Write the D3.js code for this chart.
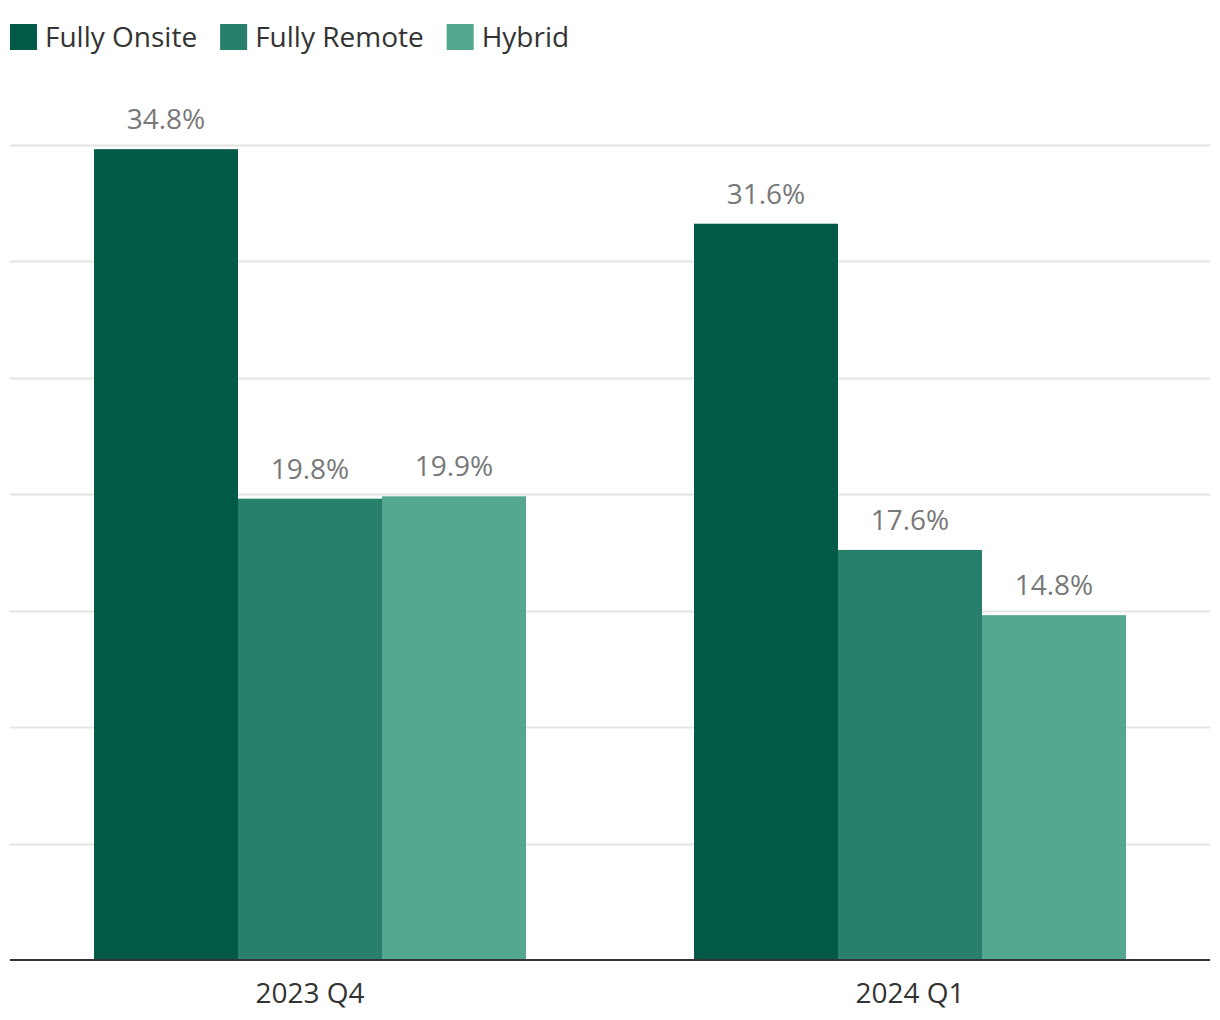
<!DOCTYPE html>
<html><head><meta charset="utf-8">
<script src="https://cdn.jsdelivr.net/npm/d3@7"></script>
<style>body{margin:0;background:#fff;} svg{display:block;font-family:"Open Sans",sans-serif;}</style>
</head><body>
<script>
const categories = ["2023 Q4", "2024 Q1"];
const seriesNames = ["Fully Onsite", "Fully Remote", "Hybrid"];
const fullyOnsite = [34.8, 31.6];
const fullyRemote = [19.8, 17.6];
const hybrid = [19.9, 14.8];
const yTicks = [0, 5, 10, 15, 20, 25, 30, 35];
const colors = ["#035A47", "#28806B", "#53A790"];

const W = 1220, H = 1020;
const svg = d3.select("body").append("svg").attr("width", W).attr("height", H);

const x0 = d3.scaleBand().domain(categories).range([10, 1210]).padding(0);
const x1 = d3.scaleBand().domain(seriesNames).range([84, 516]).padding(0);
const y = d3.scaleLinear().domain([0, 35]).range([960, 144.5]);

// gridlines
svg.append("g").selectAll("line").data(yTicks.filter(t => t > 0)).join("line")
  .attr("x1", 10).attr("x2", 1210)
  .attr("y1", d => Math.round(y(d)) + 0.5).attr("y2", d => Math.round(y(d)) + 0.5)
  .attr("stroke", "#e4e4e4").attr("stroke-width", 2);

const seriesData = [fullyOnsite, fullyRemote, hybrid];
const rows = [];
seriesData.forEach((vals, si) => vals.forEach((v, ci) => rows.push({s: seriesNames[si], si, c: categories[ci], v})));

svg.append("g").selectAll("rect").data(rows).join("rect")
  .attr("x", d => x0(d.c) + x1(d.s))
  .attr("width", x1.bandwidth())
  .attr("y", d => y(d.v))
  .attr("height", d => y(0) - y(d.v))
  .attr("fill", d => colors[d.si]);

svg.append("g").selectAll("text").data(rows).join("text")
  .attr("x", d => x0(d.c) + x1(d.s) + x1.bandwidth() / 2)
  .attr("y", d => y(d.v) - 20)
  .attr("text-anchor", "middle")
  .attr("font-size", 28)
  .attr("fill", "#787878")
  .text(d => d.v.toFixed(1) + "%");

// baseline axis
const xAxis = d3.axisBottom(x0).tickSize(0).tickPadding(0);
const gx = svg.append("g").attr("transform", `translate(0,${y(0)})`).call(xAxis);
gx.select(".domain").attr("stroke", "#333").attr("stroke-width", 2).attr("d", "M10,0H1210");
gx.selectAll("text").attr("font-size", 28).attr("fill", "#333").attr("font-family", "Open Sans, sans-serif").attr("dy", null).attr("y", 43);

// legend
const lg = svg.append("g");
let lx = 10;
seriesNames.forEach((n, i) => {
  lg.append("rect").attr("x", lx).attr("y", 24).attr("width", 27).attr("height", 26).attr("fill", colors[i]);
  const t = lg.append("text").attr("x", lx + 35).attr("y", 47).attr("font-size", 28).attr("fill", "#333").text(n);
  lx += 35 + t.node().getComputedTextLength() + 23;
});
</script>
</body></html>
